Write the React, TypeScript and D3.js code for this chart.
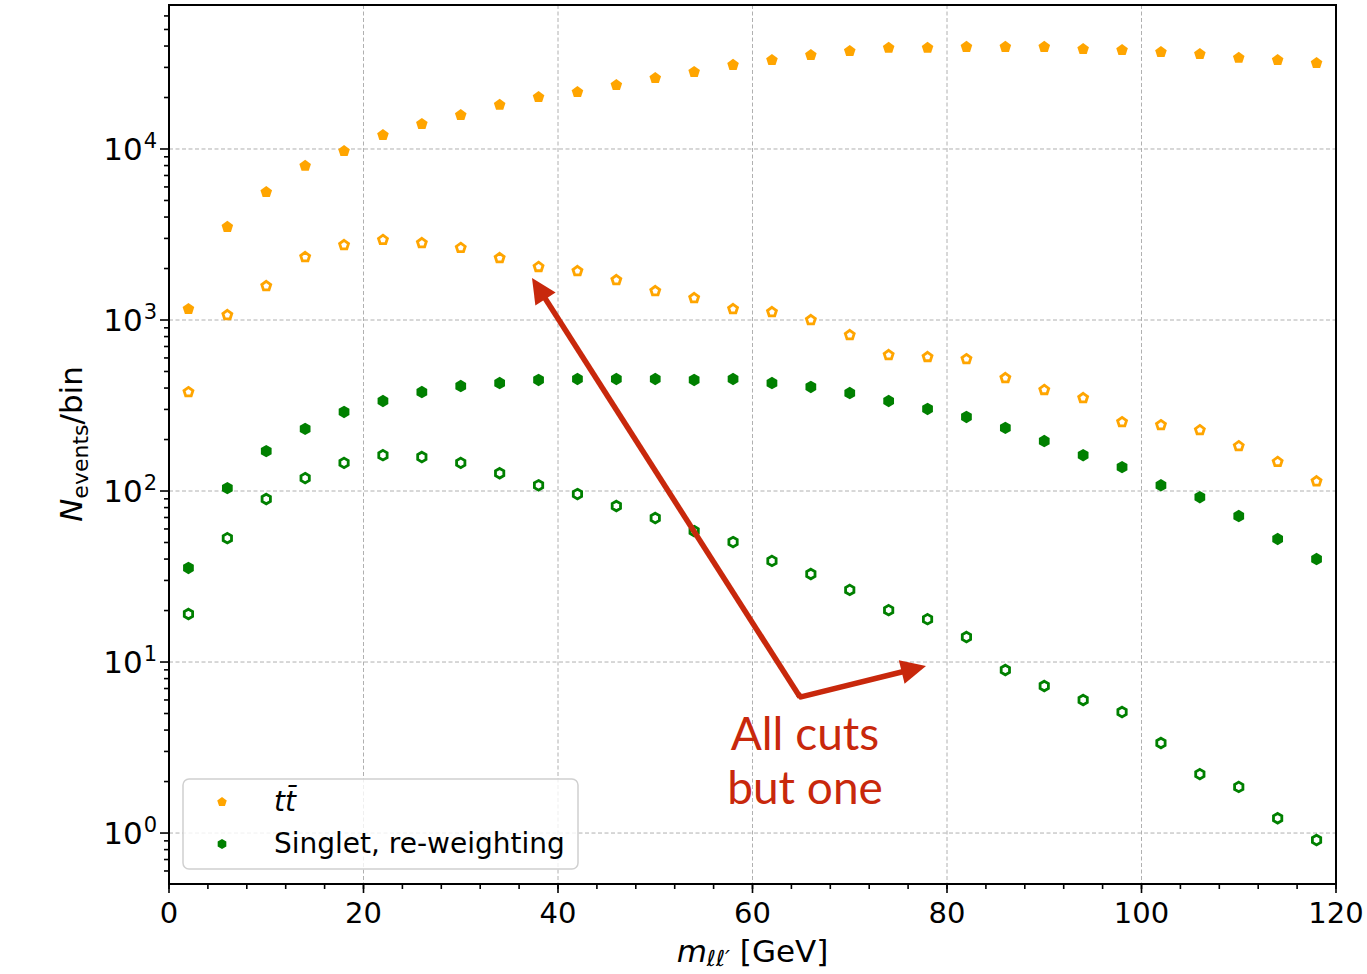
import React from "react";
import * as d3 from "d3";

// Bin centres of the dilepton invariant mass histogram [GeV]
const binCentres = [2, 6, 10, 14, 18, 22, 26, 30, 34, 38, 42, 46, 50, 54, 58, 62, 66, 70, 74, 78, 82, 86, 90, 94, 98, 102, 106, 110, 114, 118];

// ttbar background, preselection (filled) and all cuts but one (hollow)
const ttbarPresel = [1160, 3500, 5600, 7960, 9730, 12070, 14000, 15800, 18100, 20100, 21500, 23650, 26000, 28200, 31000, 33100, 35400, 37400, 39000, 39000, 39500, 39500, 39500, 38400, 37900, 36900, 35900, 34100, 33100, 31800];
const ttbarCuts = [379, 1070, 1580, 2335, 2745, 2940, 2820, 2640, 2305, 2043, 1935, 1714, 1478, 1345, 1160, 1114, 1000, 817, 624, 608, 591, 458, 390, 350, 253, 243, 227, 183, 148, 114];

// Singlet signal with re-weighting, preselection (filled) and all cuts but one (hollow)
const singletPresel = [35.5, 104, 171, 231, 290, 336, 379, 411, 428, 446, 452, 452, 452, 446, 452, 428, 406, 374, 336, 302, 271, 234, 196, 162, 138, 108, 92, 71.4, 52.4, 40];
const singletCuts = [19.1, 53, 89.8, 119, 146, 162, 158, 146, 127, 108, 96, 81.7, 69.5, 58.3, 50.3, 39, 32.7, 26.4, 20.1, 17.8, 14.0, 8.98, 7.24, 6.0, 5.1, 3.36, 2.21, 1.86, 1.22, 0.91];

const xTicks = [0, 20, 40, 60, 80, 100, 120];
const xMinorTicks = d3.range(0, 121, 4);
const yDecades = [0, 1, 2, 3, 4];

const legendLabels = ["tt̄", "Singlet, re-weighting"];
const annotationLines = ["All cuts", "but one"];

const W = 1367;
const H = 974;
const plot = { left: 169, right: 1336, top: 5, bottom: 884 };
const ORANGE = "#ffa500";
const GREEN = "#008000";
const RED = "#c8280c";
const TICK_FONT = "'DejaVu Sans', sans-serif";

function polygon(cx: number, cy: number, r: number, n: number) {
  const pts: string[] = [];
  for (let k = 0; k < n; k++) {
    const a = -Math.PI / 2 + (k * 2 * Math.PI) / n;
    pts.push(`${(cx + r * Math.cos(a)).toFixed(2)},${(cy + r * Math.sin(a)).toFixed(2)}`);
  }
  return pts.join(" ");
}

function Arrow({ x1, y1, x2, y2 }: { x1: number; y1: number; x2: number; y2: number }) {
  const len = 25;
  const half = 12;
  const dx = x2 - x1;
  const dy = y2 - y1;
  const d = Math.hypot(dx, dy);
  const ux = dx / d;
  const uy = dy / d;
  const bx = x2 - ux * len;
  const by = y2 - uy * len;
  const head = [
    [x2, y2],
    [bx - uy * half, by + ux * half],
    [bx + uy * half, by - ux * half],
  ]
    .map((p) => p.join(","))
    .join(" ");
  return (
    <g>
      <line x1={x1} y1={y1} x2={bx + ux * 2} y2={by + uy * 2} stroke={RED} strokeWidth={5.5} strokeLinecap="butt" />
      <polygon points={head} fill={RED} />
    </g>
  );
}

export default function App() {
  const x = d3.scaleLinear().domain([0, 120]).range([plot.left, plot.right]);
  const y = d3
    .scaleLog()
    .domain([Math.pow(10, -0.298), Math.pow(10, 4.842)])
    .range([plot.bottom, plot.top]);

  const yMinor: number[] = [];
  for (let e = -1; e <= 4; e++) {
    for (let m = 2; m <= 9; m++) {
      const v = m * Math.pow(10, e);
      if (v >= y.domain()[0] && v <= y.domain()[1]) yMinor.push(v);
    }
  }

  const series = [
    { values: ttbarPresel, color: ORANGE, sides: 5, hollow: false },
    { values: ttbarCuts, color: ORANGE, sides: 5, hollow: true },
    { values: singletPresel, color: GREEN, sides: 6, hollow: false },
    { values: singletCuts, color: GREEN, sides: 6, hollow: true },
  ];

  // annotation arrows, anchored in data space
  const corner = { x: x(64.88), y: y(6.24) };
  const tipA = { x: x(37.33), y: y(1761) };
  const tipB = { x: x(77.84), y: y(9.48) };

  return (
    <svg width={W} height={H} style={{ position: "absolute", left: 0, top: 0, background: "#fff" }}>
      {/* grid */}
      <g stroke="#b0b0b0" strokeWidth={1} strokeDasharray="4,2.5">
        {xTicks.slice(1, -1).map((t) => (
          <line key={"gx" + t} x1={x(t)} x2={x(t)} y1={plot.top} y2={plot.bottom} />
        ))}
        {yDecades.map((e) => (
          <line key={"gy" + e} x1={plot.left} x2={plot.right} y1={y(Math.pow(10, e))} y2={y(Math.pow(10, e))} />
        ))}
      </g>

      {/* markers */}
      {series.map((s, si) => (
        <g key={"s" + si}>
          {s.values.map((v, i) => {
            const cx = x(binCentres[i]);
            const cy = y(v);
            return s.hollow ? (
              <polygon key={i} points={polygon(cx, cy, s.sides === 5 ? 4.7 : 4.8, s.sides)} fill="#fff" stroke={s.color} strokeWidth={2.8} strokeLinejoin="miter" />
            ) : (
              <polygon key={i} points={polygon(cx, cy, s.sides === 5 ? 6.1 : 6.2, s.sides)} fill={s.color} />
            );
          })}
        </g>
      ))}

      {/* annotation */}
      <Arrow x1={corner.x} y1={corner.y} x2={tipA.x} y2={tipA.y} />
      <Arrow x1={corner.x} y1={corner.y} x2={tipB.x} y2={tipB.y} />
      <path d={`M${corner.x + 2},${corner.y + 1} L${corner.x - 2},${corner.y - 3}`} stroke={RED} strokeWidth={5.5} />
      <g fill={RED} fontFamily="Lato, 'Open Sans', sans-serif" fontSize={46} textAnchor="middle">
        {annotationLines.map((t, i) => (
          <text key={t} x={x(65.4)} y={750 + i * 54}>
            {t}
          </text>
        ))}
      </g>

      {/* legend */}
      <g>
        <rect x={183} y={779} width={395} height={90} rx={6} fill="#fff" fillOpacity={0.8} stroke="#d0d0d0" strokeWidth={1.5} />
        <polygon points={polygon(222, 802, 5, 5)} fill={ORANGE} />
        <polygon points={polygon(222, 844, 5, 6)} fill={GREEN} />
        <text x={274} y={811} fontFamily={TICK_FONT} fontSize={28} fontStyle="italic" fill="#000">
          {legendLabels[0]}
        </text>
        <text x={274} y={853} fontFamily={TICK_FONT} fontSize={28} fill="#000">
          {legendLabels[1]}
        </text>
      </g>

      {/* frame */}
      <rect x={plot.left} y={plot.top} width={plot.right - plot.left} height={plot.bottom - plot.top} fill="none" stroke="#000" strokeWidth={2} />

      {/* axis ticks */}
      <g stroke="#000" strokeWidth={1.6}>
        {xMinorTicks.map((t) => (
          <line key={"xm" + t} x1={x(t)} x2={x(t)} y1={plot.bottom} y2={plot.bottom + 5} />
        ))}
        {xTicks.map((t) => (
          <line key={"xt" + t} x1={x(t)} x2={x(t)} y1={plot.bottom} y2={plot.bottom + 9} />
        ))}
        {yMinor.map((v, i) => (
          <line key={"ym" + i} x1={plot.left - 5} x2={plot.left} y1={y(v)} y2={y(v)} />
        ))}
        {yDecades.map((e) => (
          <line key={"yt" + e} x1={plot.left - 9} x2={plot.left} y1={y(Math.pow(10, e))} y2={y(Math.pow(10, e))} />
        ))}
      </g>
      <g fontFamily={TICK_FONT} fill="#000">
        {xTicks.map((t) => (
          <text key={"xl" + t} x={x(t)} y={923} textAnchor="middle" fontSize={29}>
            {t}
          </text>
        ))}
        {yDecades.map((e) => (
          <text key={"yl" + e} x={157} y={y(Math.pow(10, e)) + 11} textAnchor="end" fontSize={31}>
            <tspan>10</tspan>
            <tspan fontSize={21} dx={1} dy={-12}>
              {e}
            </tspan>
          </text>
        ))}
      </g>

      {/* axis titles */}
      <text x={(plot.left + plot.right) / 2} y={962} textAnchor="middle" fontFamily={TICK_FONT} fontSize={31} fill="#000">
        <tspan fontStyle="italic">m</tspan>
        <tspan fontStyle="italic" fontSize={22} dy={4}>ℓℓ′</tspan>
        <tspan dy={-4}> [GeV]</tspan>
      </text>
      <text transform="translate(82,444) rotate(-90)" textAnchor="middle" fontFamily={TICK_FONT} fontSize={31} fill="#000">
        <tspan fontStyle="italic">N</tspan>
        <tspan fontSize={22} dy={6}>events</tspan>
        <tspan dy={-6}>/bin</tspan>
      </text>
    </svg>
  );
}
